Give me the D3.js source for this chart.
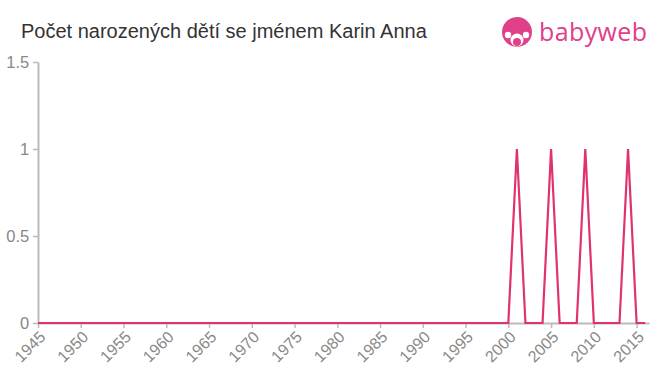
<!DOCTYPE html>
<html>
<head>
<meta charset="utf-8">
<script src="https://cdn.jsdelivr.net/npm/d3@7"></script>
<style>
  body { margin: 0; background: #fff; }
  svg { font-family: Arial, "Liberation Sans", Helvetica, sans-serif; }
</style>
</head>
<body>
<div id="chart"></div>
<script>
// years 1945..2016, births per year
const years = d3.range(1945, 2017);
const births = [
  0, 0, 0, 0, 0, 0, 0, 0, 0, 0,   // 1945-1954
  0, 0, 0, 0, 0, 0, 0, 0, 0, 0,   // 1955-1964
  0, 0, 0, 0, 0, 0, 0, 0, 0, 0,   // 1965-1974
  0, 0, 0, 0, 0, 0, 0, 0, 0, 0,   // 1975-1984
  0, 0, 0, 0, 0, 0, 0, 0, 0, 0,   // 1985-1994
  0, 0, 0, 0, 0, 0, 1, 0, 0, 0,   // 1995-2004
  1, 0, 0, 0, 1, 0, 0, 0, 0, 1,   // 2005-2014
  0, 0                            // 2015-2016
];
const xTicks = d3.range(1945, 2016, 5);
const yTicks = [0, 0.5, 1, 1.5];
const title = 'Počet narozených dětí se jménem Karin Anna';

const width = 660, height = 375;
const margin = { left: 38, right: 11, top: 62, bottom: 52 };

const svg = d3.select('#chart')
  .append('svg')
  .attr('width', width)
  .attr('height', height);

const x = d3.scaleLinear()
  .domain([1945, 2016.45])
  .range([margin.left, width - margin.right]);

const y = d3.scaleLinear()
  .domain([0, 1.5])
  .range([height - margin.bottom, margin.top]);

// title
svg.append('text')
  .attr('x', 21)
  .attr('y', 38)
  .attr('fill', '#333')
  .style('font-size', '20px')
  .text(title);

// logo
const logo = svg.append('g').attr('transform', 'translate(517, 32)');
logo.append('circle').attr('r', 15).attr('fill', '#e0408a');
logo.append('circle').attr('cx', 0).attr('cy', 8).attr('r', 6.5).attr('fill', '#fff');
logo.append('circle').attr('cx', -9).attr('cy', 3).attr('r', 3.2).attr('fill', '#fff');
logo.append('circle').attr('cx', 9).attr('cy', 3).attr('r', 3.2).attr('fill', '#fff');
logo.append('circle').attr('cx', 0).attr('cy', 10).attr('r', 4).attr('fill', '#e0408a');
svg.append('text')
  .attr('x', 539)
  .attr('y', 41)
  .attr('fill', '#e0408a')
  .style('font-family', '"Open Sans", "Noto Sans", sans-serif')
  .style('font-size', '25px')
  .attr('textLength', 108)
  .text('babyweb');

// axes
const xAxis = svg.append('g')
  .attr('transform', `translate(0, ${height - margin.bottom})`)
  .call(d3.axisBottom(x).tickValues(xTicks).tickFormat(d3.format('d')).tickSize(5).tickSizeOuter(0));
xAxis.select('.domain').attr('stroke', '#bbb').attr('stroke-width', 2);
xAxis.selectAll('.tick line').attr('stroke', '#bbb').attr('stroke-width', 1.5);
xAxis.selectAll('.tick text')
  .attr('fill', '#888')
  .style('font-size', '16px')
  .attr('text-anchor', 'end')
  .attr('x', 0)
  .attr('y', 0)
  .attr('dy', '0.35em')
  .attr('transform', 'translate(4, 11) rotate(-45)');

const yAxis = svg.append('g')
  .attr('transform', `translate(${margin.left}, 0)`)
  .call(d3.axisLeft(y).tickValues(yTicks).tickFormat(d => d).tickSize(5).tickSizeOuter(0));
yAxis.select('.domain').attr('stroke', '#bbb').attr('stroke-width', 2);
yAxis.selectAll('.tick line').attr('stroke', '#bbb').attr('stroke-width', 1.5);
yAxis.selectAll('.tick text')
  .attr('fill', '#888')
  .style('font-size', '16.5px')
  .attr('dx', '-0.05em');

// line
const line = d3.line()
  .x((d, i) => x(years[i]))
  .y(d => y(d));

svg.append('path')
  .datum(births)
  .attr('fill', 'none')
  .attr('stroke', '#e0336b')
  .attr('stroke-width', 2.2)
  .attr('d', line);
</script>
</body>
</html>
